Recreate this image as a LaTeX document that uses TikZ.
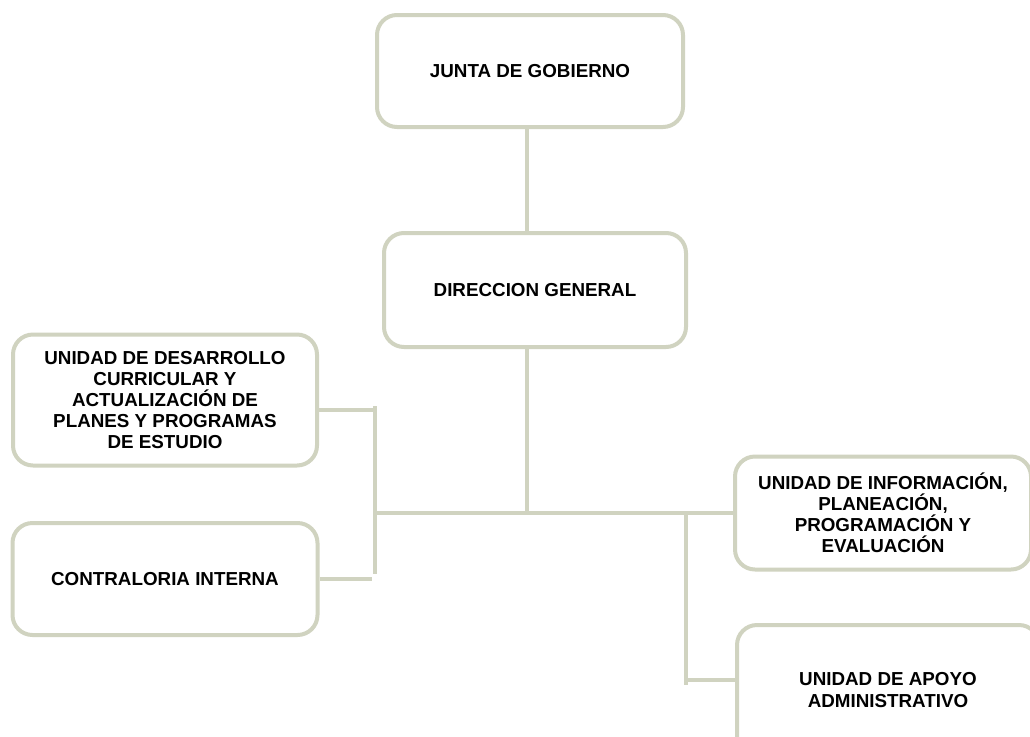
\documentclass[tikz,border=0pt]{standalone}
\usepackage{fontspec}
\setmainfont{Liberation Sans}
\definecolor{boxline}{RGB}{208,211,192}
\begin{document}
\begin{tikzpicture}[x=0.75pt,y=-0.75pt,
  orgbox/.style={draw=boxline, line width=3pt, rounded corners=15pt, fill=white,
    align=center, inner sep=2pt, font=\fontsize{14.1}{15.8}\selectfont\bfseries},
  link/.style={draw=boxline, line width=2.4pt}]
\useasboundingbox (0,0) rectangle (1030,736);
\clip (0,0) rectangle (1030,736);
\fill[white] (0,0) rectangle (1030,736);
\node[orgbox, minimum width=229.5pt, minimum height=84pt] (junta) at (530,71) {JUNTA DE GOBIERNO};
\node[orgbox, minimum width=226.5pt, minimum height=85.5pt] (dir) at (535,290) {DIRECCION GENERAL};
\node[orgbox, minimum width=228pt, minimum height=98.25pt] (udc) at (165,400) {UNIDAD DE DESARROLLO\\CURRICULAR Y\\ACTUALIZACIÓN DE\\PLANES Y PROGRAMAS\\DE ESTUDIO};
\node[orgbox, minimum width=228.75pt, minimum height=84pt] (contra) at (165,579) {CONTRALORIA INTERNA};
\node[orgbox, minimum width=222pt, minimum height=84.75pt] (uip) at (883,513) {UNIDAD DE INFORMACIÓN,\\PLANEACIÓN,\\PROGRAMACIÓN Y\\EVALUACIÓN};
\node[orgbox, minimum width=226.5pt, minimum height=97.5pt] (uaa) at (888,690) {UNIDAD DE APOYO\\ADMINISTRATIVO};
% junction coordinates
\coordinate (mid) at (527,513);
\coordinate (lbus) at (375,513);
\coordinate (ltop) at (375,406);
\coordinate (lbot) at (375,574);
\coordinate (rbus) at (686,513);
\coordinate (rbot) at (686,685);
\coordinate (udcend) at (373,410);
\coordinate (contraend) at (372,579);
\coordinate (uaastart) at (686,680);
% connectors
\draw[link] (junta.south -| mid) -- (dir.north -| mid);
\draw[link] (dir.south -| mid) -- (mid);
\draw[link] (lbus) -- (rbus) -- (uip.west);
\draw[link] (ltop) -- (lbot);
\draw[link] (udc.east |- udcend) -- (udcend);
\draw[link] (contra.east) -- (contraend);
\draw[link] (rbus) -- (rbot);
\draw[link] (uaastart) -- (uaa.west |- uaastart);
\end{tikzpicture}
\end{document}
